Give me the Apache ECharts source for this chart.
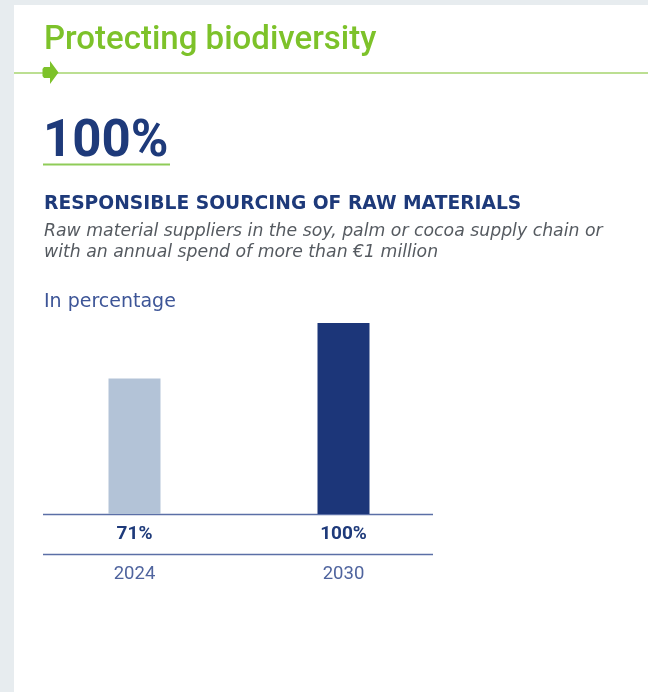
<!DOCTYPE html>
<html>
<head>
<meta charset="utf-8">
<script src="https://cdn.jsdelivr.net/npm/echarts@6/dist/echarts.min.js"></script>
<style>
html,body{margin:0;padding:0;background:#e7ecef;}
#chart{width:648px;height:692px;}
</style>
</head>
<body>
<div id="chart"></div>
<script>
const categories = ['2024', '2030'];
const values = [71, 100];
const valueLabels = ['71%', '100%'];
const barColors = ['#b3c3d7', '#1c3679'];

const titleText = 'Protecting biodiversity';
const kpiText = '100%';
const headingText = 'RESPONSIBLE SOURCING OF RAW MATERIALS';
const subText1 = 'Raw material suppliers in the soy, palm or cocoa supply chain or';
const subText2 = 'with an annual spend of more than \u20ac1 million';
const unitText = 'In percentage';

const chart = echarts.init(document.getElementById('chart'));
const R = 'Roboto';
const D = '"DejaVu Sans"';
const green = '#7dc22a';
const navy = '#1e3a7a';

chart.setOption({
  backgroundColor: '#e7ecef',
  animation: false,
  graphic: [
    {type:'rect', shape:{x:14,y:5,width:640,height:700}, style:{fill:'#ffffff'}, z:-10},
    {type:'text', left:44, top:24, style:{text:titleText, fontFamily:R, fontWeight:500, fontSize:33, fill:green}},
    {type:'line', shape:{x1:14,y1:73,x2:648,y2:73}, style:{stroke:'#a6d46e', lineWidth:1.5}},
    {type:'polygon', shape:{points:[[44,67],[50,67],[50,61],[58.5,72.5],[50,84],[50,78],[44,78],[42.5,76],[42.5,69]]}, style:{fill:green}},
    {type:'text', left:43, top:118, style:{text:kpiText, fontFamily:R, fontWeight:'bold', fontSize:51, fill:navy}},
    {type:'line', shape:{x1:43,y1:164.5,x2:170,y2:164.5}, style:{stroke:'#8fcc58', lineWidth:2}},
    {type:'text', left:44, top:194.5, style:{text:headingText, fontFamily:D, fontWeight:'bold', fontSize:18.7, fill:navy}},
    {type:'text', left:44, top:223, style:{text:subText1, fontFamily:D, fontStyle:'italic', fontSize:17.3, fill:'#555a60'}},
    {type:'text', left:44, top:244, style:{text:subText2, fontFamily:D, fontStyle:'italic', fontSize:17.3, fill:'#555a60'}},
    {type:'text', left:44, top:293, style:{text:unitText, fontFamily:D, fontSize:19, fill:'#3d5597'}},
    {type:'line', shape:{x1:43,y1:514.5,x2:433,y2:514.5}, style:{stroke:'#5b6fa6', lineWidth:1.5}},
    {type:'line', shape:{x1:43,y1:554.5,x2:433,y2:554.5}, style:{stroke:'#5b6fa6', lineWidth:1.5}}
  ],
  grid: {left:30, right:200, top:323, bottom:178, containLabel:false},
  xAxis: {
    type:'category',
    data: categories,
    axisLine:{show:false},
    axisTick:{show:false},
    axisLabel:{
      margin:10,
      formatter: function(v, i){ return '{v|' + valueLabels[i] + '}\n{y|' + v + '}'; },
      rich:{
        v:{fontFamily:R, fontWeight:'bold', fontSize:19, color:navy, lineHeight:20},
        y:{fontFamily:R, fontSize:18.5, color:'#4f649e', lineHeight:60}
      }
    }
  },
  yAxis: {type:'value', min:0, max:100, show:false, splitLine:{show:false}},
  series: [{
    type:'bar',
    barWidth:52,
    data: values.map((v,i)=>({value:v, itemStyle:{color:barColors[i]}}))
  }]
});
</script>
</body>
</html>
